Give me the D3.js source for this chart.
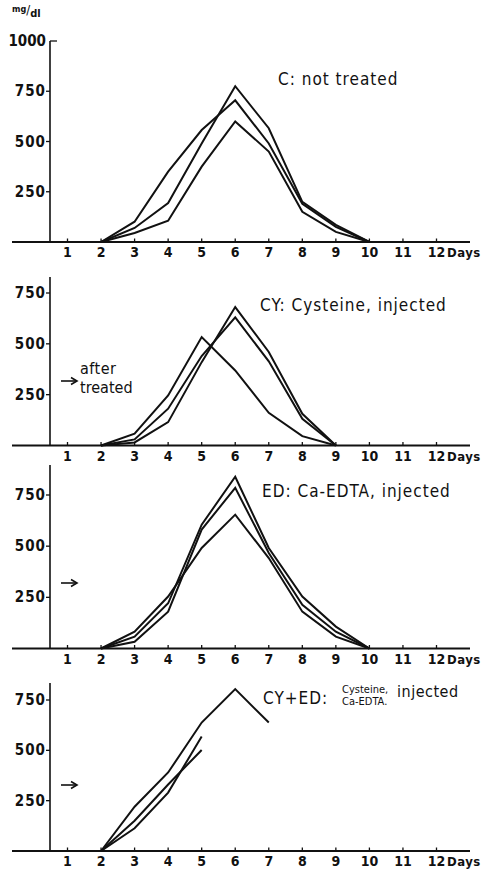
<!DOCTYPE html>
<html>
<head>
<meta charset="utf-8">
<script src="https://cdn.jsdelivr.net/npm/d3@7"></script>
<style>
  body { margin: 0; background: #fff; }
  text { fill: #111; }
  .num { font-family: 'DejaVu Sans Condensed', 'DejaVu Sans', sans-serif; font-weight: bold; font-size: 14px; }
  .lbl { font-family: 'DejaVu Sans Condensed', 'DejaVu Sans', sans-serif; font-size: 17px; letter-spacing: 1px; }
</style>
</head>
<body>
<div id="chart"></div>
<script>
// days on the x axis
let days = [1, 2, 3, 4, 5, 6, 7, 8, 9, 10, 11, 12]

// C: not treated (mg/dl, days 2..10)
let cDays = [2, 3, 4, 5, 6, 7, 8, 9, 10]
let c1 = [0, 101, 350, 557, 705, 490, 190, 75, 0]
let c2 = [0, 70, 194, 490, 775, 566, 200, 85, 0]
let c3 = [0, 45, 106, 375, 600, 450, 150, 50, 0]

// CY: cysteine injected (days 2..9)
let cyDays = [2, 3, 4, 5, 6, 7, 8, 9]
let cy1 = [0, 58, 246, 533, 369, 161, 46, 0]
let cy2 = [0, 30, 181, 440, 630, 414, 131, 0]
let cy3 = [0, 15, 115, 410, 681, 460, 156, 0]

// ED: Ca-EDTA injected (days 2..10)
let edDays = [2, 3, 4, 5, 6, 7, 8, 9, 10]
let ed1 = [0, 58, 221, 605, 839, 491, 254, 107, 0]
let ed2 = [0, 33, 180, 581, 785, 467, 213, 82, 0]
let ed3 = [0, 82, 254, 491, 654, 442, 180, 58, 0]

// CY+ED
let ceDays1 = [2, 3, 4, 5, 6, 7]
let ce1 = [0, 220, 390, 638, 804, 638]
let ceDays2 = [2, 3, 4, 5]
let ce2 = [0, 113, 290, 569]
let ce3 = [0, 150, 330, 502]

let yTicks1 = [250, 500, 750, 1000]
let yTicks = [250, 500, 750]

let width = 484
let height = 871

let svg = d3
  .select('#chart')
  .append('svg')
  .attr('width', width)
  .attr('height', height)

let x = d3.scaleLinear().domain([1, 12]).range([67.5, 436.5])

let panels = [
  { base: 242, top: 41, axisTop: 41, max: 1000, ticks: yTicks1,
    series: [[cDays, c1], [cDays, c2], [cDays, c3]] },
  { base: 445.5, top: 293, axisTop: 277, max: 750, ticks: yTicks,
    series: [[cyDays, cy1], [cyDays, cy2], [cyDays, cy3]] },
  { base: 648.5, top: 495, axisTop: 465, max: 750, ticks: yTicks,
    series: [[edDays, ed1], [edDays, ed2], [edDays, ed3]] },
  { base: 851, top: 700, axisTop: 683, max: 750, ticks: yTicks,
    series: [[ceDays1, ce1], [ceDays2, ce2], [ceDays2, ce3]] }
]

panels.forEach(p => {
  let y = d3.scaleLinear().domain([0, p.max]).range([p.base, p.top])
  let g = svg.append('g')

  // x axis line and ticks
  g.append('line')
    .attr('x1', 12).attr('x2', 470)
    .attr('y1', p.base).attr('y2', p.base)
    .attr('stroke', '#111').attr('stroke-width', 2)

  g.selectAll('.xtick')
    .data(days)
    .enter()
    .append('line')
    .attr('x1', d => x(d)).attr('x2', d => x(d))
    .attr('y1', p.base).attr('y2', p.base - 3.5)
    .attr('stroke', '#111').attr('stroke-width', 1.3)

  g.selectAll('.xlab')
    .data(days)
    .enter()
    .append('text')
    .attr('class', 'num')
    .attr('x', d => x(d))
    .attr('y', p.base + 15)
    .attr('text-anchor', 'middle')
    .text(d => d)

  g.append('text')
    .attr('class', 'num')
    .attr('x', 447)
    .attr('y', p.base + 15)
    .style('font-size', '13px')
    .style('letter-spacing', '0.5px')
    .text('Days')

  // y axis
  g.append('line')
    .attr('x1', 50).attr('x2', 50)
    .attr('y1', p.axisTop).attr('y2', p.base)
    .attr('stroke', '#111').attr('stroke-width', 1.6)

  g.selectAll('.ytick')
    .data(p.ticks)
    .enter()
    .append('line')
    .attr('x1', d => d === 1000 ? 50 : 46)
    .attr('x2', d => d === 1000 ? 57 : 50)
    .attr('y1', d => y(d)).attr('y2', d => y(d))
    .attr('stroke', '#111').attr('stroke-width', 1.3)

  g.selectAll('.ylab')
    .data(p.ticks)
    .enter()
    .append('text')
    .attr('class', 'num')
    .attr('x', 46)
    .attr('y', d => y(d) + 5)
    .attr('text-anchor', 'end')
    .style('font-size', '15px')
    .style('letter-spacing', d => d === 1000 ? '0px' : '1px')
    .text(d => d)

  // data lines
  let line = d3.line()
    .x(d => x(d[0]))
    .y(d => y(d[1]))

  p.series.forEach(s => {
    g.append('path')
      .datum(d3.zip(s[0], s[1]))
      .attr('d', line)
      .attr('fill', 'none')
      .attr('stroke', '#111')
      .attr('stroke-width', 2)
      .attr('stroke-linejoin', 'miter')
  })
})

// unit label
let unit = svg.append('text').attr('class', 'lbl').attr('x', 12).attr('y', 17).style('letter-spacing', '0px')
unit.append('tspan').attr('dy', -5).style('font-size', '9px').style('font-weight', 'bold').text('mg')
unit.append('tspan').attr('dy', 2).style('font-size', '13px').text('/')
unit.append('tspan').attr('dy', 3).style('font-size', '11px').style('font-weight', 'bold').text('dl')

// panel titles
svg.append('text').attr('class', 'lbl').attr('x', 278).attr('y', 85).text('C: not treated')
svg.append('text').attr('class', 'lbl').attr('x', 260).attr('y', 311).text('CY: Cysteine, injected')
svg.append('text').attr('class', 'lbl').attr('x', 262).attr('y', 497).text('ED: Ca-EDTA, injected')

svg.append('text').attr('class', 'lbl').attr('x', 263).attr('y', 704).text('CY+ED:')
svg.append('text').attr('class', 'lbl').attr('x', 342).attr('y', 693).style('font-size', '11px').style('letter-spacing', '0px').text('Cysteine,')
svg.append('text').attr('class', 'lbl').attr('x', 342).attr('y', 705).style('font-size', '11px').style('letter-spacing', '0px').text('Ca-EDTA.')
svg.append('text').attr('class', 'lbl').attr('x', 397).attr('y', 697).style('font-size', '16px').style('letter-spacing', '0.5px').text('injected')

// arrows marking treatment
let arrowY = [381, 583, 785]
arrowY.forEach(ay => {
  svg.append('line')
    .attr('x1', 61).attr('x2', 76)
    .attr('y1', ay).attr('y2', ay)
    .attr('stroke', '#111').attr('stroke-width', 1.6)
  svg.append('path')
    .attr('d', `M${71},${ay - 3.5} L${77},${ay} L${71},${ay + 3.5}`)
    .attr('fill', 'none')
    .attr('stroke', '#111').attr('stroke-width', 1.6)
})
svg.append('text').attr('class', 'lbl').attr('x', 80).attr('y', 374).style('font-size', '16px').style('letter-spacing', '0.5px').text('after')
svg.append('text').attr('class', 'lbl').attr('x', 80).attr('y', 393).style('font-size', '16px').style('letter-spacing', '0px').text('treated')
</script>
</body>
</html>
